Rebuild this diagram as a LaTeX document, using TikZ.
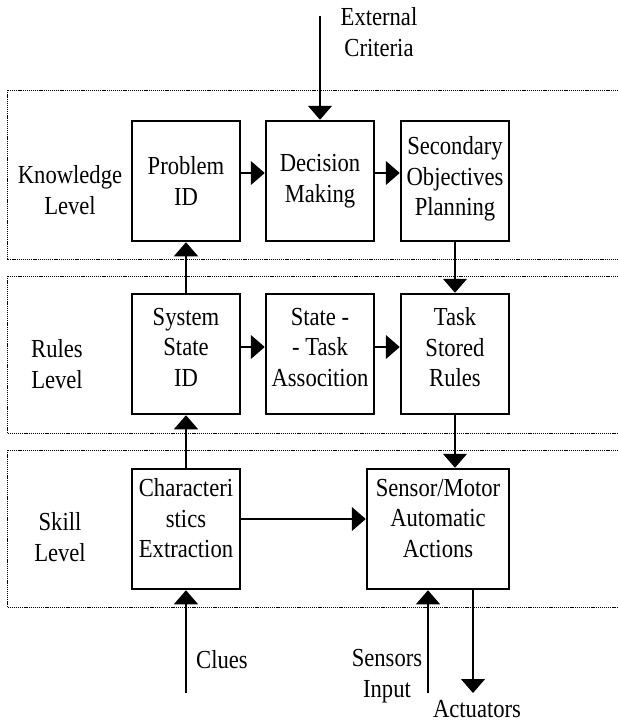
\documentclass[tikz,border=0pt]{standalone}
\usepackage{fontspec}
\setmainfont{Liberation Serif}[FakeStretch=0.87]
\usetikzlibrary{arrows.meta}
\usetikzlibrary{positioning}

\begin{document}
\begin{tikzpicture}[%
  >={Triangle[width=24pt,length=14pt]},
  x=1pt, y=-1pt,
  font=\fontsize{26}{30.5}\selectfont,
  block/.style={draw, line width=2.5pt, align=center, inner sep=0pt,
    minimum width=108pt, minimum height=120pt},
  lbl/.style={align=center, inner sep=0pt},
  flow/.style={->, line width=1.3pt},
  frame/.style={line width=1pt, dash pattern=on 1.2pt off 0.9pt},
]

  \useasboundingbox (0,0) rectangle (618,724);

  % level frames, open on the right
  \draw[frame] (618,90) -- (7,90) -- (7,259) -- (618,259);
  \draw[frame] (618,276) -- (7,276) -- (7,433) -- (618,433);
  \draw[frame] (618,450) -- (7,450) -- (7,607) -- (618,607);

  \node[lbl] (knowl) at (70,190) {Knowledge\\Level};
  \node[lbl] (rulesl) at (57,364) {Rules\\Level};
  \node[lbl] (skilll) at (60,537) {Skill\\Level};

  % knowledge level
  \node[block] (pid) at (186,181) {Problem\\ID};
  \node[block] (dm) at (320,181) {Decision\\Making};
  \node[block, text depth=10pt] (sop) at (455,181) {Secondary\\Objectives\\Planning};

  % rules level
  \node[block, text depth=14pt] (ssid) at (186,354) {System\\State\\ID};
  \node[block, text depth=14pt] (sta) at (320,354) {State -\\- Task\\Assocition};
  \node[block, text depth=14pt] (tsr) at (455,354) {Task\\Stored\\Rules};

  % skill level
  \node[block, text depth=22pt] (ce) at (186,529) {Characteri\\stics\\Extraction};
  \node[block, text depth=22pt, minimum width=142pt] (sm) at (438,529)
    {Sensor/Motor\\Automatic\\Actions};

  % outside inputs and outputs
  \node[lbl] (extc) at (379,32) {External\\Criteria};
  \node[lbl] (clues) at (222,660) {Clues};
  \node[lbl] (sens) at (387,676) {Sensors\\Input};
  \node[lbl] (actu) at (477,709) {Actuators};

  \coordinate (ext) at (320,16);
  \coordinate (cl) at (186,693);
  \coordinate (si) at (428,693);
  \coordinate (act) at (473,693);

  \draw[flow] (ext) -- (dm.north);
  \draw[flow] ([yshift=8pt]pid.east) -- ([yshift=8pt]dm.west);
  \draw[flow] ([yshift=8pt]dm.east) -- ([yshift=8pt]sop.west);
  \draw[flow] (sop.south) -- (tsr.north);
  \draw[flow] (ssid.north) -- (pid.south);
  \draw[flow] ([yshift=7pt]ssid.east) -- ([yshift=7pt]sta.west);
  \draw[flow] ([yshift=7pt]sta.east) -- ([yshift=7pt]tsr.west);
  \draw[flow] (tsr.south) -- (tsr.south |- sm.north);
  \draw[flow] (ce.north) -- (ssid.south);
  \draw[flow] ([yshift=10pt]ce.east) -- ([yshift=10pt]sm.west);
  \draw[flow] (cl) -- (ce.south);
  \draw[flow] (si) -- (si |- sm.south);
  \draw[flow] (act |- sm.south) -- (act);

\end{tikzpicture}
\end{document}
